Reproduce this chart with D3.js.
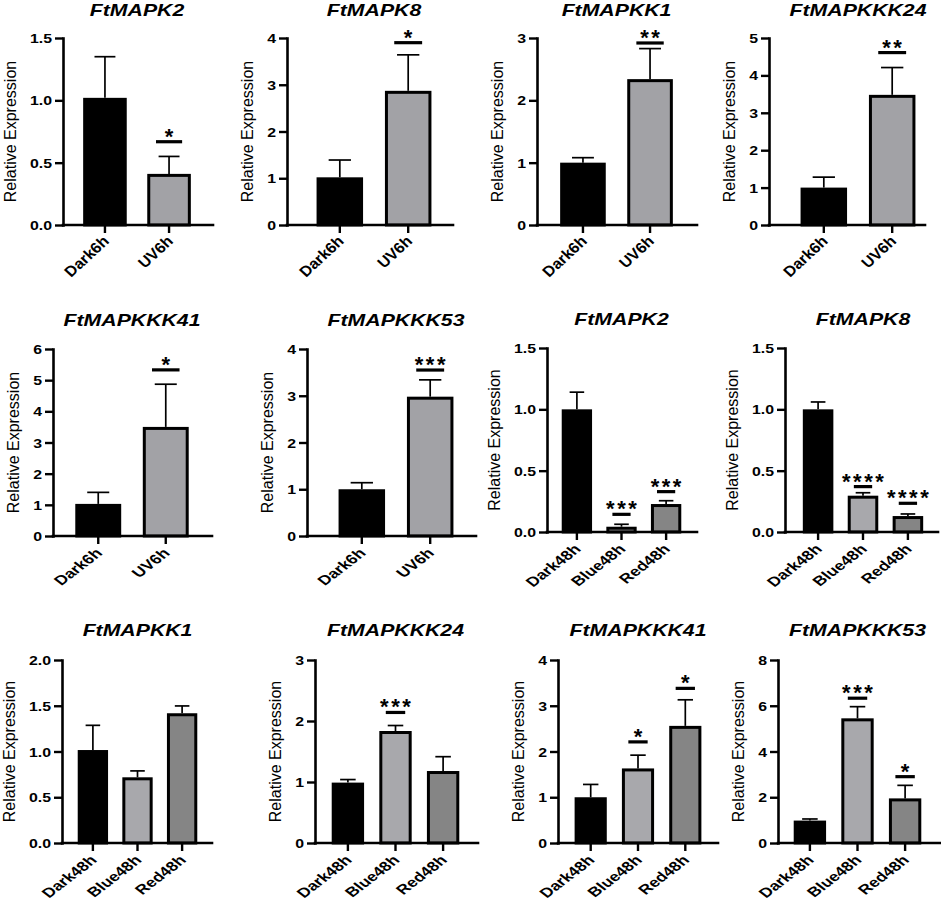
<!DOCTYPE html>
<html>
<head>
<meta charset="utf-8">
<script src="https://cdn.jsdelivr.net/npm/d3@7"></script>
<style>
	body { margin: 0; background: #fff; }
	svg { display: block; font-family: 'Liberation Sans', Arial, sans-serif; }
</style>
</head>
<body>
<script>

// Data

var genes = ['FtMAPK2', 'FtMAPK8', 'FtMAPKK1', 'FtMAPKKK24', 'FtMAPKKK41', 'FtMAPKKK53',
	'FtMAPK2', 'FtMAPK8', 'FtMAPKK1', 'FtMAPKKK24', 'FtMAPKKK41', 'FtMAPKKK53'];

var uvGroups = ['Dark6h', 'UV6h'];
var lightGroups = ['Dark48h', 'Blue48h', 'Red48h'];

var means = [
	[1.02, 0.41], [1.02, 2.87], [1.0, 2.34], [1.0, 3.48], [1.03, 3.50], [1.0, 2.98],
	[1.0, 0.043, 0.228], [1.0, 0.296, 0.13], [1.016, 0.718, 1.418],
	[0.99, 1.836, 1.18], [1.0, 1.63, 2.56], [0.98, 5.45, 1.95]
];

var errors = [
	[0.33, 0.14], [0.37, 0.77], [0.08, 0.49], [0.28, 0.73], [0.37, 1.37], [0.14, 0.36],
	[0.14, 0.02, 0.027], [0.06, 0.024, 0.017], [0.27, 0.07, 0.08],
	[0.05, 0.09, 0.235], [0.28, 0.29, 0.57], [0.07, 0.51, 0.57]
];

var stars = [
	['', '*'], ['', '*'], ['', '**'], ['', '**'], ['', '*'], ['', '***'],
	['', '***', '***'], ['', '****', '****'], ['', '', ''],
	['', '***', ''], ['', '*', '*'], ['', '***', '*']
];

var starLevels = [
	[0, 0.668], [0, 3.9], [0, 2.92], [0, 4.61], [0, 5.33], [0, 3.55],
	[0, 0.144, 0.329], [0, 0.37, 0.234], [0, 0, 0],
	[0, 2.14, 0], [0, 2.21, 3.38], [0, 6.33, 2.9]
];

var yMax = [1.5, 4, 3, 5, 6, 4, 1.5, 1.5, 2, 3, 4, 8];
var yStep = [0.5, 1, 1, 1, 1, 1, 0.5, 0.5, 0.5, 1, 1, 2];

// Panel layout: axis x, axis end, band start, band end, y top, y bottom, title baseline

var layout = [
	[63, 213, 62, 212, 38, 225, 16],
	[287, 453, 294, 454, 38, 225, 16],
	[537, 697, 538, 695, 38, 225, 16],
	[769, 925, 778, 938, 38, 225, 16],
	[53, 212, 53, 211, 349, 536, 326],
	[307, 476, 316, 476, 349, 536, 326],
	[547, 697, 547, 696, 348, 532, 325],
	[785, 938, 788, 938, 348, 532, 325],
	[62, 212, 63, 212, 660, 843, 636],
	[315, 478, 316, 475, 660, 843, 636],
	[558, 718, 559, 717, 660, 843, 636],
	[778, 940, 778, 937, 660, 843, 636]
];

var uvFills = ['#000', '#a2a2a6'];
var lightFills = ['#000', '#a8a8ac', '#858585'];

var svg = d3.select('body').append('svg')
	.attr('width', 941)
	.attr('height', 903);

genes.forEach(function(gene, i) {

	var L = layout[i],
		groups = i < 6 ? uvGroups : lightGroups,
		fills = i < 6 ? uvFills : lightFills,
		g = svg.append('g');

	var x = d3.scaleBand()
		.domain(groups)
		.range([L[2], L[3]])
		.paddingInner(0.32)
		.paddingOuter(0.33);

	var y = d3.scaleLinear()
		.domain([0, yMax[i]])
		.range([L[5], L[4]]);

	var bw = x.bandwidth();

	var rows = groups.map(function(grp, j) {
		return {grp: grp, mean: means[i][j], sd: errors[i][j], star: stars[i][j], level: starLevels[i][j], fill: fills[j]};
	});

	// error bars (upper only)
	var eb = g.selectAll('g.err')
		.data(rows)
		.enter()
		.append('g')
		.attr('class', 'err')
		.attr('stroke', '#000')
		.attr('stroke-width', 1.7);

	eb.append('line')
		.attr('x1', function(d) {return x(d.grp) + bw / 2;})
		.attr('x2', function(d) {return x(d.grp) + bw / 2;})
		.attr('y1', function(d) {return y(d.mean);})
		.attr('y2', function(d) {return y(d.mean + d.sd);});

	eb.append('line')
		.attr('x1', function(d) {return x(d.grp) + bw / 2 - bw * 0.24;})
		.attr('x2', function(d) {return x(d.grp) + bw / 2 + bw * 0.24;})
		.attr('y1', function(d) {return y(d.mean + d.sd);})
		.attr('y2', function(d) {return y(d.mean + d.sd);});

	// bars
	g.selectAll('rect.bar')
		.data(rows)
		.enter()
		.append('rect')
		.attr('class', 'bar')
		.attr('x', function(d) {return x(d.grp) + 1.5;})
		.attr('width', bw - 3)
		.attr('y', function(d) {return y(d.mean) + 1.5;})
		.attr('height', function(d) {return Math.max(0, y(0) - y(d.mean) - 1.5);})
		.attr('fill', function(d) {return d.fill;})
		.attr('stroke', '#000')
		.attr('stroke-width', 3);

	// significance marks
	var sig = g.selectAll('g.sig')
		.data(rows.filter(function(d) {return d.star;}))
		.enter()
		.append('g')
		.attr('class', 'sig');

	sig.append('line')
		.attr('x1', function(d) {return x(d.grp) + bw * 0.2;})
		.attr('x2', function(d) {return x(d.grp) + bw * 0.8;})
		.attr('y1', function(d) {return y(d.level);})
		.attr('y2', function(d) {return y(d.level);})
		.attr('stroke', '#000')
		.attr('stroke-width', 3.2);

	sig.append('text')
		.attr('x', function(d) {return x(d.grp) + bw / 2 + 1.2;})
		.attr('y', function(d) {return y(d.level) + 2;})
		.attr('text-anchor', 'middle')
		.style('font-size', '22px')
		.style('font-weight', 'bold')
		.style('letter-spacing', '2.5px')
		.text(function(d) {return d.star;});

	// y axis
	var ticks = d3.range(0, yMax[i] + yStep[i] / 2, yStep[i]);
	var yAxis = g.append('g')
		.attr('transform', 'translate(' + L[0] + ',0)')
		.call(d3.axisLeft(y)
			.tickValues(ticks)
			.tickSize(8)
			.tickSizeOuter(0)
			.tickFormat(yStep[i] < 1 ? d3.format('.1f') : d3.format('d')));

	yAxis.select('.domain').attr('stroke-width', 2.6).attr('stroke-linecap', 'square');
	yAxis.selectAll('.tick line').attr('stroke-width', 2.4);
	yAxis.selectAll('.tick text')
		.attr('x', 0)
		.attr('dy', '0.36em')
		.attr('transform', 'translate(-11,0) scale(1.27,1)')
		.style('font-size', '12.5px')
		.style('font-weight', 'bold')
		.attr('fill', '#000');

	// x axis, first row drawn a little larger like the source
	var firstRow = i < 4,
		labelTransform = firstRow ? 'translate(5,17) scale(1.08,1) rotate(-45)' : 'translate(5,18) scale(1.3,1) rotate(-45)';

	var xAxis = g.append('g')
		.attr('transform', 'translate(0,' + L[5] + ')')
		.call(d3.axisBottom(x).tickSize(8).tickSizeOuter(0));

	xAxis.select('.domain').remove();
	xAxis.selectAll('.tick line').attr('stroke-width', 2.4);
	xAxis.selectAll('.tick text')
		.attr('x', 0)
		.attr('y', 0)
		.attr('dy', 0)
		.attr('transform', labelTransform)
		.style('text-anchor', 'end')
		.style('font-size', firstRow ? '15px' : '13.5px')
		.style('font-weight', 'bold')
		.attr('fill', '#000');

	g.append('line')
		.attr('x1', L[0])
		.attr('x2', L[1])
		.attr('y1', L[5])
		.attr('y2', L[5])
		.attr('stroke', '#000')
		.attr('stroke-width', 2.6)
		.attr('stroke-linecap', 'square');

	// y label next to tick labels
	var bb = yAxis.node().getBBox();
	g.append('text')
		.attr('transform', 'translate(' + (L[0] + bb.x - 14) + ',' + ((L[4] + L[5]) / 2) + ') rotate(-90)')
		.attr('text-anchor', 'middle')
		.style('font-size', '16px')
		.text('Relative Expression');

	// title, centred over the bars
	var cx = (L[2] + L[3]) / 2;
	g.append('text')
		.attr('transform', 'translate(' + cx + ',' + L[6] + ') scale(1.25,1)')
		.attr('text-anchor', 'middle')
		.style('font-size', '17px')
		.style('font-weight', 'bold')
		.style('font-style', 'italic')
		.text(gene);

});

</script>
</body>
</html>
